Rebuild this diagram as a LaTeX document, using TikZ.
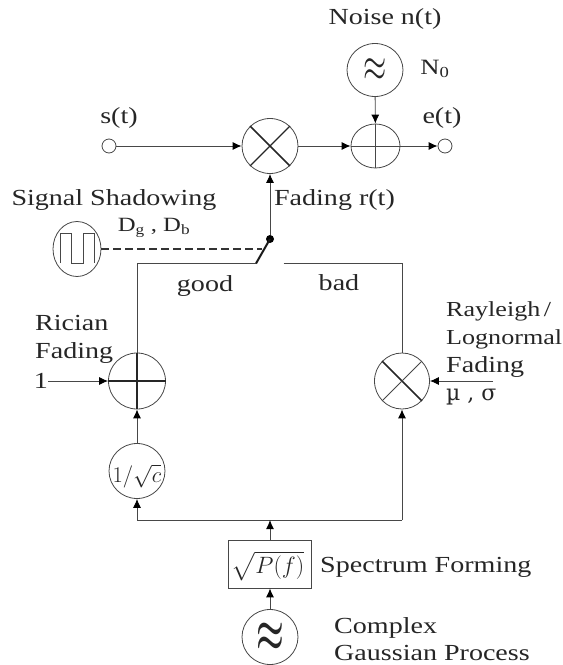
\documentclass[tikz,border=0pt]{standalone}
\usepackage{amsmath}
\usepackage{graphicx}
\usepackage{fontspec}
\setmainfont[FakeStretch=1.22]{Liberation Serif}
\newfontfamily\symfont{DejaVu Serif}
\usetikzlibrary{shapes.geometric,arrows.meta}
\definecolor{ln}{gray}{0.28}
\tikzset{
 every node/.style={font=\fontsize{23}{26}\selectfont,text=black!85},
 blk/.style={ellipse,draw=ln,line width=0.8pt,inner sep=0pt,fill=none},
 term/.style={circle,draw=ln,line width=0.8pt,minimum size=14pt,inner sep=0pt},
 lab/.style={inner sep=0pt,anchor=center},
 llab/.style={inner sep=0pt,anchor=base west},
 wire/.style={draw=ln,line width=0.9pt},
 arr/.style={wire,-{Latex[length=9pt,width=8pt,black]}},
 thk/.style={draw=black!85,line width=1.6pt},
}
\begin{document}
\begin{tikzpicture}[x=1pt,y=-1pt]
\useasboundingbox (0,0) rectangle (563,665);
% nodes
\node[blk,minimum width=56pt,minimum height=53pt] (noise) at (375,70) {\scalebox{1.2}[1.9]{$\approx$}};
\node[blk,minimum width=49pt,minimum height=44pt] (sum) at (375.5,146) {};
\node[blk,minimum width=56pt,minimum height=55pt] (mul) at (270,146) {};
\node[term] (s) at (109,146) {};
\node[term] (e) at (445,146) {};
\node[blk,minimum width=48pt,minimum height=55pt] (shad) at (77,249) {};
\node[circle,fill=black,minimum size=8pt,inner sep=0pt] (sw) at (270,239) {};
\coordinate (swend) at (256,263.5);
\coordinate (swmid) at (262,252);
\coordinate (gl) at (137,263.5);
\coordinate (br) at (283.5,263.5);
\coordinate (brc) at (402,263.5);
\node[blk,minimum width=57pt,minimum height=56pt] (ric) at (137,381) {};
\node[blk,minimum width=55pt,minimum height=56pt] (ray) at (402,381) {};
\node[blk,minimum width=56pt,minimum height=55pt] (cc) at (137,471) {};
\node[draw=ln,line width=0.8pt,minimum width=83.5pt,minimum height=48pt,inner sep=0pt] (box) at (270,564) {};
\node[blk,minimum width=56pt,minimum height=55pt,font=\fontsize{23}{26}\selectfont\boldmath] (src) at (270,637) {\scalebox{1.25}[2.1]{$\approx$}};
\coordinate (bus) at (270,520);
\coordinate (busl) at (137,520);
\coordinate (busr) at (402,520);
\coordinate (oneend) at (48,381);
\coordinate (muend) at (493,381);
% glyphs in the blocks
\draw[thk] (mul.135) -- (mul.315);
\draw[thk,line width=1.1pt] (mul.45) -- (mul.225);
\draw[wire] (sum.north) -- (sum.south) (sum.west) -- (sum.east);
\draw[thk] (ric.north) -- (ric.south) (ric.west) -- (ric.east);
\draw[thk] (ray.135) -- (ray.315);
\draw[wire] (ray.45) -- (ray.225);
\draw[wire] ([xshift=-17pt,yshift=-14pt]shad.center) -- ++(0,-30) -- ++(11,0) -- ++(0,30) -- ++(12,0) -- ++(0,-30) -- ++(11,0) -- ++(0,30);
% connectors
\draw[arr] (s) -- (mul);
\draw[arr] (mul) -- (sum);
\draw[arr] (sum) -- (e);
\draw[arr] (noise) -- (sum);
\draw[arr] (sw) -- (mul);
\draw[black!90,line width=2pt] (sw.center) -- (swend);
\draw[wire,line width=1.3pt,dash pattern=on 8pt off 4pt,draw=black!80] (shad) -- (swmid |- shad.east);
\draw[wire] (swend) -- (gl) -- (ric);
\draw[wire] (br) -- (brc) -- (ray);
\draw[arr] (oneend) -- (ric);
\draw[arr] (muend) -- (ray);
\draw[arr] (cc) -- (ric);
\draw[arr] (busl) -- (cc);
\draw[wire] (busl) -- (busr);
\draw[arr] (busr) -- (ray);
\draw[arr] (box) -- (bus);
\draw[arr] (src) -- (box);
% labels
\node[lab] (t1) at (385,19) {Noise n(t)};
\node[lab] (t2) at (435,69) {\scalebox{0.95}{N\textsubscript{0}}};
\node[lab] (t3) at (119,118) {s(t)};
\node[lab] (t4) at (442,118) {e(t)};
\node[lab] (t5) at (114,200) {Signal Shadowing};
\node[lab] (t6) at (154,228) {\scalebox{0.88}{D\textsubscript{g} , D\textsubscript{b}}};
\node[lab] (t7) at (334.5,200) {Fading r(t)};
\node[lab] (t8) at (205,286) {good};
\node[lab] (t9) at (339,283) {bad};
\node[llab] (t10) at (35,330) {Rician};
\node[llab] (t11) at (35,358) {Fading};
\node[lab] (t12) at (41,381) {1};
\node[llab] (t13) at (446,316) {\scalebox{0.93}{Rayleigh\,/}};
\node[llab] (t14) at (446,344) {\scalebox{0.93}{Lognormal}};
\node[llab] (t15) at (446,372) {Fading};
\node[llab] (t16) at (446,400) {\symfont\fontsize{22}{22}\selectfont µ , σ};
\node[lab] (t17) at (137,476) {\scalebox{0.9}{$1/\sqrt{c}$}};
\node[lab] (t18) at (268,566) {\scalebox{0.95}{$\sqrt{P(f)}$}};
\node[llab] (t19) at (320,572) {Spectrum Forming};
\node[llab] (t20) at (334,633) {Complex};
\node[llab] (t21) at (334,660) {Gaussian Process};
\end{tikzpicture}
\end{document}
